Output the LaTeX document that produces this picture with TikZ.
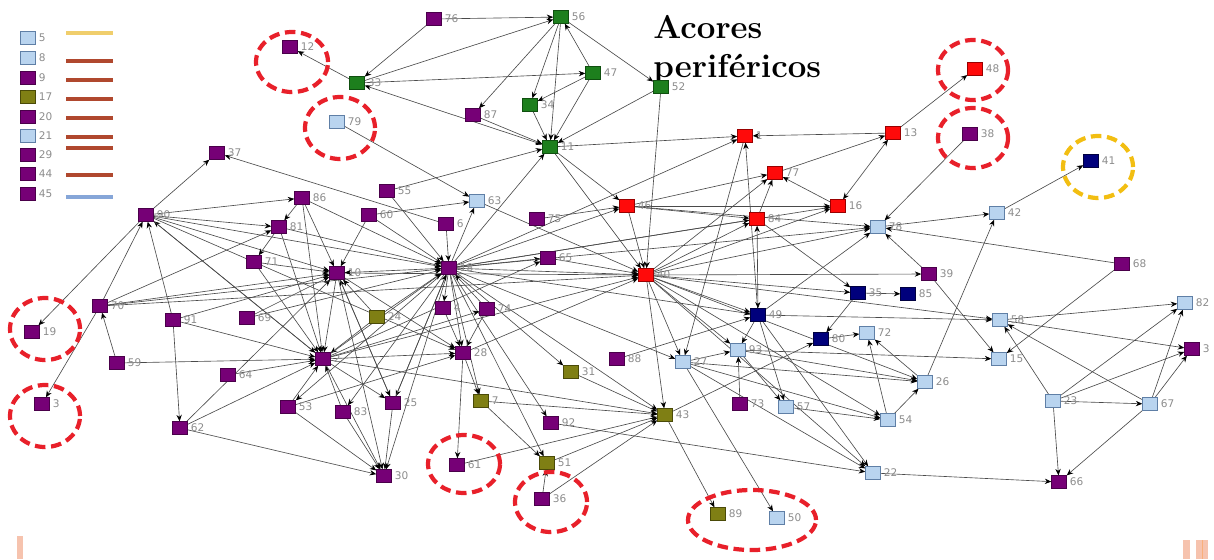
\documentclass[tikz,border=0pt]{standalone}
\usepackage{fontspec}
\usetikzlibrary{arrows.meta}
\newfontfamily\lblfont{DejaVu Sans}
\definecolor{purpleN}{HTML}{760076}
\definecolor{purpleD}{HTML}{4A004A}
\definecolor{greenN}{HTML}{1D7F1D}
\definecolor{greenD}{HTML}{0F4F0F}
\definecolor{redN}{HTML}{FF0A0A}
\definecolor{redD}{HTML}{9A0000}
\definecolor{lightN}{HTML}{B9D4EF}
\definecolor{lightD}{HTML}{5F7FA6}
\definecolor{navyN}{HTML}{00007C}
\definecolor{navyD}{HTML}{000040}
\definecolor{oliveN}{HTML}{7F7F14}
\definecolor{oliveD}{HTML}{4A4A08}
\definecolor{lblgray}{HTML}{8C8C8C}
\definecolor{edgegray}{HTML}{4A4A4A}
\definecolor{ringred}{HTML}{E8202A}
\definecolor{ringyellow}{HTML}{F2BE12}
\definecolor{legyellow}{HTML}{F0CE6C}
\definecolor{legbrown}{HTML}{B0482E}
\definecolor{legblue}{HTML}{86A6D8}
\definecolor{barsalmon}{HTML}{F6C3AE}
\pgfdeclarelayer{background}
\pgfsetlayers{background,main}
\tikzset{
  nd/.style={rectangle, minimum width=10.5pt, minimum height=9pt, inner sep=0pt, line width=0.5pt},
  P/.style={nd, fill=purpleN, draw=purpleD},
  G/.style={nd, fill=greenN, draw=greenD},
  R/.style={nd, fill=redN, draw=redD},
  L/.style={nd, fill=lightN, draw=lightD},
  B/.style={nd, fill=navyN, draw=navyD},
  O/.style={nd, fill=oliveN, draw=oliveD},
  lbl/.style={font=\lblfont\fontsize{7.5}{8}\selectfont, text=lblgray, inner sep=0.5pt},
  tip/.tip={Stealth[length=4.6pt,width=3.8pt,color=black]},
  edge/.style={draw=edgegray, line width=0.45pt, -tip},
  bedge/.style={draw=edgegray, line width=0.45pt, tip-tip},
  ring/.style={draw=ringred, line width=3pt, dash pattern=on 7.5pt off 4pt},
  yring/.style={draw=ringyellow, line width=3pt, dash pattern=on 7.5pt off 4pt},
  legline/.style={line width=2.8pt},
  title/.style={font=\bfseries\fontsize{23.5}{27}\selectfont, anchor=base west, inner sep=0pt}
}
\newcommand\mynode[5]{\node[#4, label={[lbl,label distance=1.5pt]right:#5}] (#1) at (#2,#3) {};}
\begin{document}
\begin{tikzpicture}[x=0.025cm, y=-0.025cm]
\useasboundingbox (0,0) rectangle (1214,559);

% ---- legend ----
\foreach \yy/\st/\tx in {38/L/5, 58/L/8, 78/P/9, 97/O/17, 117/P/20, 136/L/21, 155/P/29, 174/P/44, 194/P/45}
  \node[\st, label={[lbl,label distance=1.5pt]right:\tx}] (leg\tx) at (28,\yy) {};
\draw[legline, legyellow] (66,33) -- (113,33);
\foreach \yy in {61,80,99,118,137,148,175}
  \draw[legline, legbrown] (66,\yy) -- (113,\yy);
\draw[legline, legblue] (66,197) -- (113,197);

% ---- title ----
\node[title] (t1) at (653,38) {Acores};
\node[title] (t2) at (653,77) {periféricos};

% ---- nodes ----
\mynode{n12}{290}{47}{P}{12}
\mynode{n33}{357}{83}{G}{33}
\mynode{n76}{434}{19}{P}{76}
\mynode{n56}{561}{17}{G}{56}
\mynode{n47}{593}{73}{G}{47}
\mynode{n34}{530}{105}{G}{34}
\mynode{n52}{661}{87}{G}{52}
\mynode{n87}{473}{115}{P}{87}
\mynode{n11}{550}{147}{G}{11}
\mynode{n79}{337}{122}{L}{79}
\mynode{n37}{217}{153}{P}{37}
\mynode{n55}{387}{191}{P}{55}
\mynode{n63}{477}{201}{L}{63}
\mynode{n86}{302}{198}{P}{86}
\mynode{n60}{369}{215}{P}{60}
\mynode{n6}{446}{224}{P}{6}
\mynode{n75}{537}{219}{P}{75}
\mynode{n46}{627}{206}{R}{46}
\mynode{n1}{745}{136}{R}{1}
\mynode{n13}{893}{133}{R}{13}
\mynode{n48}{975}{69}{R}{48}
\mynode{n38}{970}{134}{P}{38}
\mynode{n41}{1091}{161}{B}{41}
\mynode{n77}{775}{173}{R}{77}
\mynode{n16}{838}{206}{R}{16}
\mynode{n84}{757}{219}{R}{84}
\mynode{n78}{878}{227}{L}{78}
\mynode{n42}{997}{213}{L}{42}
\mynode{n90}{146}{215}{P}{90}
\mynode{n81}{279}{227}{P}{81}
\mynode{n71}{254}{262}{P}{71}
\mynode{n10}{337}{273}{P}{10}
\mynode{n18}{449}{268}{P}{18}
\mynode{n65}{548}{258}{P}{65}
\mynode{n40}{646}{275}{R}{40}
\mynode{n39}{929}{274}{P}{39}
\mynode{n68}{1122}{264}{P}{68}
\mynode{n35}{858}{293}{B}{35}
\mynode{n85}{908}{294}{B}{85}
\mynode{n82}{1185}{303}{L}{82}
\mynode{n70}{100}{306}{P}{70}
\mynode{n19}{32}{332}{P}{19}
\mynode{n91}{173}{320}{P}{91}
\mynode{n69}{247}{318}{P}{69}
\mynode{n24}{377}{317}{O}{24}
\mynode{n4}{443}{308}{P}{4}
\mynode{n74}{487}{309}{P}{74}
\mynode{n49}{758}{315}{B}{49}
\mynode{n80}{821}{339}{B}{80}
\mynode{n72}{867}{333}{L}{72}
\mynode{n58}{1000}{320}{L}{58}
\mynode{n3b}{1192}{349}{P}{3}
\mynode{n59}{117}{363}{P}{59}
\mynode{n64}{228}{375}{P}{64}
\mynode{n2}{323}{359}{P}{2}
\mynode{n28}{463}{353}{P}{28}
\mynode{n88}{617}{359}{P}{88}
\mynode{n27}{683}{362}{L}{27}
\mynode{n93}{738}{350}{L}{93}
\mynode{n15}{999}{359}{L}{15}
\mynode{n31}{571}{372}{O}{31}
\mynode{n26}{925}{382}{L}{26}
\mynode{n3a}{42}{404}{P}{3}
\mynode{n62}{180}{428}{P}{62}
\mynode{n53}{288}{407}{P}{53}
\mynode{n83}{343}{412}{P}{83}
\mynode{n25}{393}{403}{P}{25}
\mynode{n7}{481}{401}{O}{7}
\mynode{n92}{551}{423}{P}{92}
\mynode{n43}{665}{415}{O}{43}
\mynode{n73}{740}{404}{P}{73}
\mynode{n57}{786}{407}{L}{57}
\mynode{n54}{888}{420}{L}{54}
\mynode{n23}{1053}{401}{L}{23}
\mynode{n67}{1150}{404}{L}{67}
\mynode{n30}{384}{476}{P}{30}
\mynode{n61}{457}{465}{P}{61}
\mynode{n51}{547}{463}{O}{51}
\mynode{n36}{542}{499}{P}{36}
\mynode{n22}{873}{473}{L}{22}
\mynode{n66}{1059}{482}{P}{66}
\mynode{n89}{718}{514}{O}{89}
\mynode{n50}{777}{518}{L}{50}

% ---- connectors, kept behind the nodes ----
\begin{pgfonlayer}{background}
\foreach \a/\b in {
  n33/n12, n76/n56, n33/n56, n33/n47, n56/n34, n56/n11, n47/n56, n56/n52, n56/n87,
  n34/n11, n47/n11, n47/n34, n87/n11, n52/n11, n52/n40, n11/n1, n11/n46, n11/n40,
  n18/n11, n55/n11, n79/n63, n90/n37, n6/n37, n76/n33, n18/n1, n60/n63, n18/n63,
  n63/n40, n46/n40, n18/n46, n75/n46, n46/n16, n46/n84, n46/n78, n46/n77, n18/n65,
  n65/n40, n2/n65, n40/n84, n40/n77, n40/n16, n40/n78, n1/n27, n49/n1, n84/n77,
  n16/n77, n77/n13, n13/n48, n13/n1, n84/n35, n38/n78, n78/n42, n42/n41, n68/n78,
  n39/n78, n39/n15, n26/n42, n68/n15, n40/n39, n49/n78, n35/n85, n35/n80, n40/n35,
  n40/n58, n49/n58, n58/n82, n58/n3b, n67/n58, n23/n58, n23/n82, n23/n3b, n23/n67,
  n23/n66, n67/n82, n67/n3b, n67/n66, n22/n66, n93/n15, n54/n72, n26/n72, n54/n26,
  n80/n72, n57/n54, n40/n54, n27/n54, n27/n26, n40/n26, n93/n26, n49/n22, n40/n22,
  n27/n22, n92/n22, n27/n50, n43/n89, n73/n93, n93/n57, n49/n57, n49/n93, n43/n80,
  n88/n49, n40/n27, n40/n93, n40/n49, n40/n43, n27/n93, n18/n49, n18/n27}
  \draw[edge] (\a) -- (\b);
\foreach \a/\b in {
  n90/n19, n70/n3a, n59/n70, n91/n62, n62/n30, n62/n2, n62/n10, n90/n86, n90/n81,
  n90/n10, n90/n18, n70/n90, n91/n90, n2/n90, n70/n10, n70/n18, n70/n81, n91/n2,
  n91/n10, n69/n18, n69/n10, n59/n2, n64/n2, n53/n2, n53/n30, n83/n2, n83/n30,
  n25/n30, n25/n10, n2/n30, n10/n30, n18/n30, n53/n28, n81/n71, n86/n81, n81/n2,
  n81/n18, n71/n10, n71/n2, n86/n2, n86/n18, n86/n10, n60/n10, n60/n18, n55/n18,
  n6/n18, n10/n2, n24/n10, n24/n18, n24/n2, n18/n4, n4/n28, n18/n28, n74/n28,
  n74/n18, n28/n61, n28/n7, n18/n7, n7/n51, n7/n43, n18/n51, n18/n31, n31/n43,
  n18/n92, n61/n43, n51/n43, n36/n43, n36/n51, n2/n43, n18/n43, n10/n40, n2/n40,
  n28/n40, n2/n28, n18/n25, n18/n83, n18/n16, n18/n84, n18/n78, n70/n40, n90/n2,
  n90/n28, n2/n25, n10/n28, n25/n18, n2/n74, n18/n40, n18/n53, n10/n25, n2/n18}
  \draw[edge] (\a) -- (\b);
\foreach \a/\b in {n33/n11, n84/n49, n16/n13, n10/n18}
  \draw[bedge] (\a) -- (\b);
\end{pgfonlayer}

% ---- highlight rings ----
\draw[ring] (292,62) ellipse [x radius=0.9cm, y radius=0.75cm];
\draw[ring] (340,128) ellipse [x radius=0.875cm, y radius=0.775cm];
\draw[ring] (973,70) ellipse [x radius=0.875cm, y radius=0.75cm];
\draw[ring] (973,138) ellipse [x radius=0.875cm, y radius=0.75cm];
\draw[yring] (1098,167) ellipse [x radius=0.875cm, y radius=0.775cm];
\draw[ring] (45,329) ellipse [x radius=0.875cm, y radius=0.775cm];
\draw[ring] (45,416) ellipse [x radius=0.875cm, y radius=0.775cm];
\draw[ring] (464,464) ellipse [x radius=0.9cm, y radius=0.725cm];
\draw[ring] (551,502) ellipse [x radius=0.9cm, y radius=0.75cm];
\draw[ring] (752,520) ellipse [x radius=1.6cm, y radius=0.75cm];

% ---- slide edge bars ----
\fill[barsalmon] (17,536) rectangle (23,559);
\fill[barsalmon] (1183,540) rectangle (1190,559);
\fill[barsalmon] (1196,540) rectangle (1208,559);
\draw[barsalmon!70!orange, line width=0.6pt] (1202,540) -- (1202,559);
\end{tikzpicture}
\end{document}
